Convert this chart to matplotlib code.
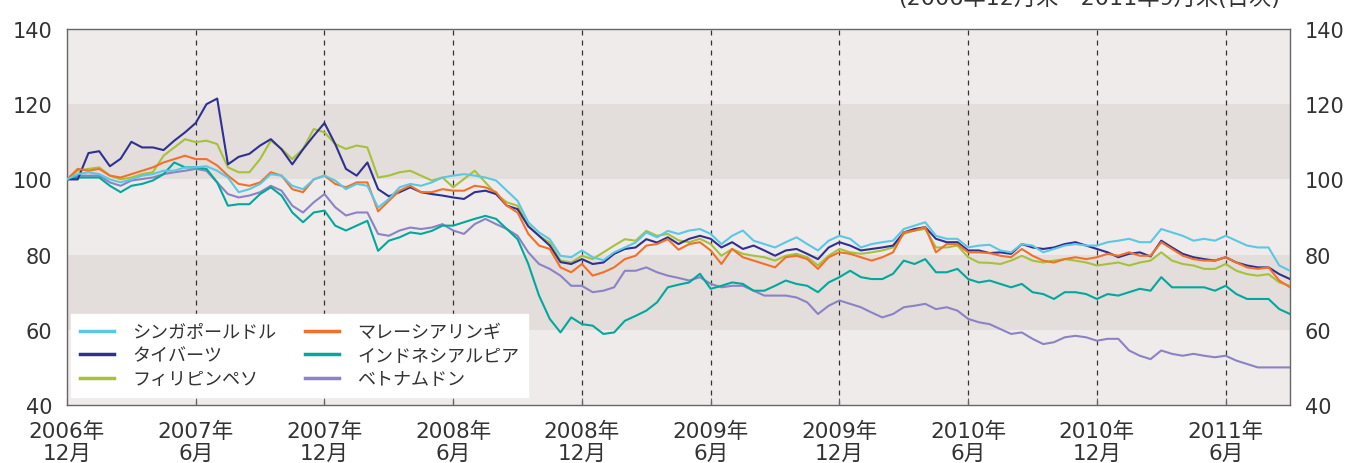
import numpy as np
import matplotlib
matplotlib.use("Agg")
import matplotlib.pyplot as plt

plt.rcParams['font.family'] = ['Noto Sans CJK JP', 'DejaVu Sans']
NUM_FONT = ['DejaVu Sans', 'Noto Sans CJK JP']   # wide digits, CJK falls back

# =========================
# Data (index, 2006年12月末 = 100), read every half month
# =========================
months = np.arange(0, 57.01, 0.5)   # 0 = 2006年12月末, 57 = 2011年9月末

tick_months = [0, 6, 12, 18, 24, 30, 36, 42, 48, 54]
tick_labels = ["2006年\n12月", "2007年\n6月", "2007年\n12月", "2008年\n6月", "2008年\n12月",
               "2009年\n6月", "2009年\n12月", "2010年\n6月", "2010年\n12月", "2011年\n6月"]

sgd = [100, 101.4, 101.9, 101.4, 100, 99.2, 100, 101, 101.4, 102.3,
       102.3, 103.2, 103.2, 103.5, 102.3, 100.5, 96.6, 97.4, 98.8, 101.4,
       101, 98.3, 97.4, 100, 101, 99.7, 97.4, 98.8, 98.3, 92.5,
       94.8, 97.9, 98.8, 98.3, 99.2, 100.5, 101, 101.4, 101, 100.5,
       99.7, 97, 94.3, 88.6, 85.9, 84.1, 79.7, 79.3, 81.1, 79.3,
       78.5, 80.6, 81.9, 83.2, 85.9, 84.6, 86.3, 85.5, 86.4, 86.8,
       85.5, 82.8, 85, 86.4, 83.7, 82.8, 81.9, 83.3, 84.6, 82.8,
       81.1, 83.7, 85, 84.2, 81.9, 82.8, 83.3, 83.7, 86.8, 87.7,
       88.6, 85, 84.2, 84.2, 81.9, 82.4, 82.6, 81.1, 80.6, 82.8,
       82.4, 80.6, 81.5, 82.4, 82.8, 82.4, 82.4, 83.3, 83.7, 84.2,
       83.3, 83.3, 86.8, 85.9, 85, 83.7, 84.2, 83.7, 85, 83.7,
       82.4, 81.9, 81.9, 77.1, 75.7]

thb = [100, 100, 107, 107.5, 103.5, 105.5, 110, 108.5, 108.5, 107.8,
       110.3, 112.5, 115, 120, 121.5, 104, 106, 106.8, 109, 110.7,
       108, 104, 108, 111.6, 115, 109.4, 102.8, 101, 104.5, 97.4,
       95.5, 96.6, 97.9, 96.6, 96.1, 95.7, 95.2, 94.8, 96.6, 97,
       96.1, 93, 92.1, 87.5, 85, 82.4, 78, 77.5, 78.8, 77.5,
       77.9, 80.2, 81.5, 81.9, 84.1, 83.2, 84.6, 82.8, 84.2, 85,
       84.2, 81.9, 83.3, 81.5, 82.4, 81.1, 79.7, 81.1, 81.5, 80.2,
       78.8, 81.9, 83.3, 82.4, 81.1, 81.5, 81.9, 82.4, 85.9, 86.8,
       87.3, 84.2, 83.3, 83.3, 81.1, 81.1, 80.4, 80.6, 80.2, 82.8,
       81.9, 81.5, 81.9, 82.8, 83.3, 82.4, 81.5, 80.6, 79.3, 80.2,
       80.6, 79.5, 83.7, 81.9, 80.2, 79.3, 78.8, 78.4, 79.3, 77.9,
       77.1, 76.6, 76.6, 74.8, 73.5]

php = [100, 102.3, 102.8, 103.2, 101, 100, 100.5, 101.4, 101.9, 106.3,
       108.5, 110.7, 109.9, 110.3, 109.4, 103.2, 101.9, 101.9, 105.4, 110.3,
       108.1, 105.4, 108.1, 113.4, 112.5, 109.4, 108.1, 109, 108.5, 100.5,
       101, 101.9, 102.3, 101, 99.7, 100.5, 97.9, 100.1, 102.3, 99.2,
       96.1, 93.9, 93, 87.7, 85, 83.2, 78.4, 77.9, 79.7, 78.8,
       80.6, 82.4, 84.1, 83.7, 86.3, 85, 85.5, 83.8, 83.3, 84.2,
       82.8, 79.7, 81.5, 80.2, 79.7, 79.3, 78.4, 79.7, 80.2, 79.3,
       77.1, 79.7, 81.5, 80.6, 80.2, 80.6, 81.1, 81.9, 85.5, 86.4,
       86.8, 81.9, 81.9, 82.4, 79.3, 77.9, 77.8, 77.5, 78.4, 79.7,
       78.4, 77.9, 78.4, 78.8, 78.4, 77.9, 77.1, 77.5, 77.9, 77.1,
       77.9, 78.4, 80.6, 78.4, 77.5, 77.1, 76.2, 76.2, 77.5, 75.7,
       74.8, 74.4, 74.8, 72.6, 71.7]

myr = [100, 102.8, 102.3, 102.8, 101, 100.5, 101.4, 102.3, 103.2, 104.5,
       105.4, 106.3, 105.4, 105.4, 103.7, 101, 98.8, 98.3, 99.2, 101.9,
       101, 97.4, 96.6, 100, 101, 98.8, 97.9, 99.2, 99.2, 91.5,
       94.3, 97, 98.3, 96.6, 96.6, 97.4, 97, 97, 98.3, 97.9,
       96.6, 93, 91.2, 85.5, 82.4, 81.5, 76.6, 75.3, 77.5, 74.4,
       75.3, 76.6, 78.8, 79.7, 82.4, 82.8, 84.1, 81.3, 82.8, 83.3,
       81.1, 77.5, 81.5, 79.3, 78.4, 77.5, 76.6, 79.3, 79.7, 78.8,
       76.2, 79.3, 80.6, 80.2, 79.3, 78.4, 79.3, 80.6, 85.9, 86.4,
       87.3, 80.6, 82.8, 82.8, 80.6, 80.6, 80.4, 79.7, 79.3, 81.5,
       79.7, 78.4, 77.9, 78.8, 79.3, 78.8, 79.3, 80.2, 79.7, 80.6,
       79.7, 79.7, 83.3, 81.5, 79.7, 78.8, 78.4, 78.4, 79.3, 77.9,
       76.6, 76.2, 76.6, 73.1, 71.3]

idr = [100, 100.5, 100.5, 100.5, 98.3, 96.6, 98.3, 98.8, 99.7, 101.4,
       104.5, 103.2, 103.2, 102.8, 99.2, 93, 93.4, 93.4, 96.1, 97.9,
       95.7, 91.2, 88.6, 91.2, 91.7, 87.7, 86.4, 87.7, 89, 81,
       83.7, 84.6, 85.9, 85.5, 86.3, 87.7, 87.7, 88.6, 89.5, 90.3,
       89.5, 86.8, 84.1, 77.5, 69.1, 62.9, 59.3, 63.3, 61.5, 61.1,
       58.9, 59.3, 62.4, 63.7, 65.1, 67.3, 71.3, 72, 72.6, 74.9,
       70.9, 71.7, 72.6, 72.2, 70.4, 70.4, 71.7, 73.1, 72.2, 71.7,
       70, 72.6, 74, 75.7, 74, 73.5, 73.5, 74.9, 78.4, 77.5,
       78.8, 75.3, 75.3, 76.2, 73.5, 72.6, 73.1, 72.2, 71.3, 72.2,
       70, 69.5, 68.2, 70, 70, 69.5, 68.2, 69.5, 69.1, 70,
       70.9, 70.4, 74, 71.3, 71.3, 71.3, 71.3, 70.4, 71.7, 69.5,
       68.2, 68.2, 68.2, 65.5, 64.2]

vnd = [100, 101, 101, 101, 99.2, 98.3, 99.7, 100.1, 100.5, 101.4,
       101.9, 102.3, 102.8, 102.3, 99.2, 96.1, 95.2, 95.7, 96.6, 98.3,
       97, 93, 91.2, 93.9, 96.1, 92.6, 90.4, 91.2, 91.2, 85.5,
       85, 86.4, 87.2, 86.8, 87.2, 88.1, 86.4, 85.5, 88.1, 89.5,
       88.1, 86.8, 85, 80.6, 77.5, 76.2, 74.4, 71.7, 71.7, 70,
       70.4, 71.3, 75.7, 75.7, 76.6, 75.3, 74.4, 73.8, 73.1, 74,
       72.2, 71.3, 71.7, 71.7, 70.4, 69.1, 69.1, 69.1, 68.6, 67.3,
       64.2, 66.4, 67.8, 66.9, 66, 64.6, 63.3, 64.2, 66, 66.4,
       66.9, 65.5, 66, 65.1, 62.9, 62, 61.5, 60.2, 58.9, 59.3,
       57.6, 56.2, 56.7, 58, 58.4, 58, 57.1, 57.6, 57.6, 54.5,
       53.1, 52.2, 54.5, 53.6, 53.1, 53.6, 53.1, 52.7, 53.1, 51.8,
       50.9, 50, 50, 50, 50]

# legend order: column 1 then column 2
series = [
    ("シンガポールドル", sgd, "#5ac8e4", 6),
    ("タイバーツ", thb, "#2e3190", 4),
    ("フィリピンペソ", php, "#a7c13a", 3),
    ("マレーシアリンギ", myr, "#f3702a", 5),
    ("インドネシアルピア", idr, "#00a99c", 2),
    ("ベトナムドン", vnd, "#8b83c4", 1),
]

TEXT = "#333333"


def main():
    fig = plt.figure(figsize=(13.5, 4.64), dpi=100)
    ax = fig.add_axes([67 / 1350, 1 - 406 / 464, 1223 / 1350, 376 / 464])

    ax.set_facecolor("#efebeb")
    for lo, hi in [(60, 80), (100, 120)]:
        ax.axhspan(lo, hi, color="#e3dedc", zorder=0, lw=0)
    for m in tick_months[1:]:
        ax.axvline(m, color="#333333", ls=(0, (4, 4)), lw=0.9, zorder=0.5)

    handles = []
    for name, vals, col, z in series:
        assert len(vals) == len(months), name
        h, = ax.plot(months, vals, color=col, lw=1.5, label=name, zorder=z)
        handles.append(h)

    ax.set_xlim(0, 57)
    ax.set_ylim(40, 140)
    ax.set_yticks(range(40, 141, 20))
    ax.set_xticks(tick_months)
    ax.set_xticklabels(tick_labels, linespacing=1.12, family=NUM_FONT)
    ax.tick_params(axis="y", left=False, right=False, labelleft=True, labelright=True,
                   labelsize=15, colors=TEXT, pad=7)
    ax.tick_params(axis="x", direction="in", length=5, color="#666666",
                   labelsize=15.5, labelcolor=TEXT, pad=11)
    for t in ax.yaxis.get_major_ticks():
        t.label1.set_family(NUM_FONT)
        t.label2.set_family(NUM_FONT)
    for s in ax.spines.values():
        s.set_color("#666666")
        s.set_linewidth(1.0)

    leg = ax.legend(handles=handles, ncol=2, loc="lower left",
                    bbox_to_anchor=(0.003, 0.021), borderaxespad=0,
                    frameon=True, fancybox=False, facecolor="white", edgecolor="white",
                    framealpha=1, fontsize=13, labelcolor=TEXT,
                    handlelength=1.9, handletextpad=1.0, labelspacing=0.3,
                    columnspacing=1.6, borderpad=0.5)
    for line in leg.get_lines():
        line.set_linewidth(2.5)
    leg.set_zorder(10)

    fig.text(1280 / 1350, 1 - 5 / 464, "(2006年12月末～2011年9月末(日次)",
             ha="right", va="baseline", fontsize=16, color=TEXT, family=NUM_FONT)

    fig.savefig("out.png", dpi=100)


if __name__ == "__main__":
    main()
